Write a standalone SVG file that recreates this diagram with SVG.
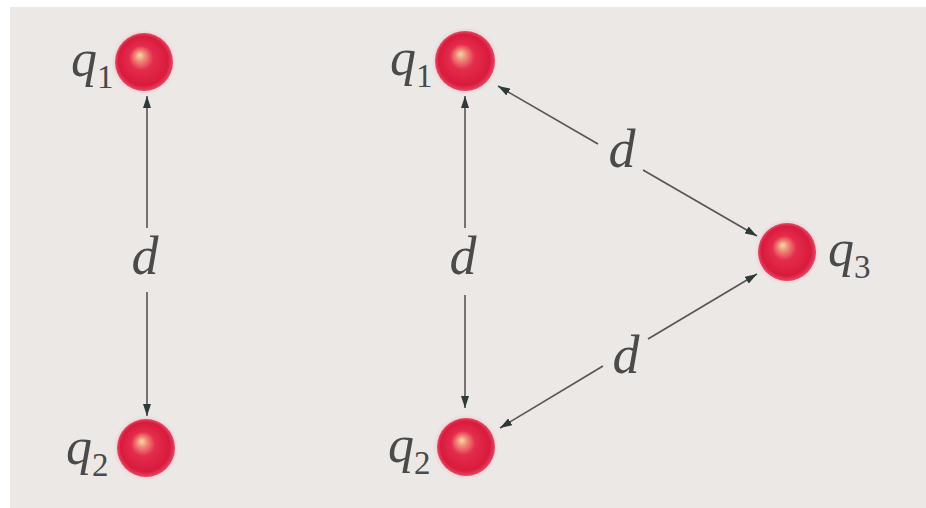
<svg xmlns="http://www.w3.org/2000/svg" width="926" height="508" viewBox="0 0 926 508">
  <defs>
    <radialGradient id="ball" cx="0.5" cy="0.5" r="0.5" fx="0.42" fy="0.38">
      <stop offset="0" stop-color="#f6dca6"/>
      <stop offset="0.18" stop-color="#f08878"/>
      <stop offset="0.42" stop-color="#e42c4c"/>
      <stop offset="0.85" stop-color="#d91a3c"/>
      <stop offset="1" stop-color="#e24a66"/>
    </radialGradient>
    <radialGradient id="glow" cx="0.5" cy="0.5" r="0.5">
      <stop offset="0.8" stop-color="#f4b8c6" stop-opacity="0.8"/>
      <stop offset="1" stop-color="#f4c8d2" stop-opacity="0"/>
    </radialGradient>
    <marker id="ah" viewBox="0 0 12 8" refX="12" refY="4" markerWidth="12" markerHeight="8" markerUnits="userSpaceOnUse" orient="auto-start-reverse">
      <path d="M0,0 L12,4 L0,8 Z" fill="#2f3a38"/>
    </marker>
    <style>
      .lbl { font-family: "Liberation Serif", "DejaVu Serif", serif; font-style: italic; font-size: 52px; fill: #4a4a4a; }
      .sub { font-style: normal; font-size: 33px; }
      .d { font-family: "Liberation Serif", "DejaVu Serif", serif; font-style: italic; font-size: 54px; fill: #4a4a4a; text-anchor: middle; }
      .ln { stroke: #555; stroke-width: 1.6; fill: none; }
    </style>
  </defs>
  <rect x="10" y="7" width="916" height="501" fill="#ebe8e6"/>

  <g id="connectors">
    <line class="ln" x1="147" y1="228" x2="147" y2="96" marker-end="url(#ah)"/>
    <line class="ln" x1="147" y1="292" x2="147" y2="416" marker-end="url(#ah)"/>
    <text class="d" x="145" y="274">d</text>

    <line class="ln" x1="465" y1="228" x2="465" y2="96" marker-end="url(#ah)"/>
    <line class="ln" x1="465" y1="295" x2="465" y2="408" marker-end="url(#ah)"/>
    <text class="d" x="463" y="274">d</text>

    <line class="ln" x1="598" y1="144" x2="498" y2="86" marker-end="url(#ah)"/>
    <line class="ln" x1="643" y1="170" x2="757" y2="236" marker-end="url(#ah)"/>
    <text class="d" x="622" y="167">d</text>

    <line class="ln" x1="603" y1="366" x2="500" y2="428" marker-end="url(#ah)"/>
    <line class="ln" x1="648" y1="339" x2="757" y2="274" marker-end="url(#ah)"/>
    <text class="d" x="626" y="373">d</text>
  </g>

  <g id="left-q1">
    <circle cx="144" cy="62" r="33" fill="url(#glow)"/>
    <circle cx="144" cy="62" r="29" fill="url(#ball)"/>
    <text class="lbl" x="71" y="76">q<tspan class="sub" dy="12">1</tspan></text>
  </g>
  <g id="left-q2">
    <circle cx="146" cy="448" r="33" fill="url(#glow)"/>
    <circle cx="146" cy="448" r="29" fill="url(#ball)"/>
    <text class="lbl" x="66" y="464">q<tspan class="sub" dy="12">2</tspan></text>
  </g>
  <g id="right-q1">
    <circle cx="465" cy="61" r="34" fill="url(#glow)"/>
    <circle cx="465" cy="61" r="30" fill="url(#ball)"/>
    <text class="lbl" x="390" y="75">q<tspan class="sub" dy="12">1</tspan></text>
  </g>
  <g id="right-q2">
    <circle cx="466" cy="447" r="33" fill="url(#glow)"/>
    <circle cx="466" cy="447" r="29" fill="url(#ball)"/>
    <text class="lbl" x="388" y="462">q<tspan class="sub" dy="12">2</tspan></text>
  </g>
  <g id="q3">
    <circle cx="787" cy="252" r="33" fill="url(#glow)"/>
    <circle cx="787" cy="252" r="29" fill="url(#ball)"/>
    <text class="lbl" x="828" y="266">q<tspan class="sub" dy="12">3</tspan></text>
  </g>
</svg>
